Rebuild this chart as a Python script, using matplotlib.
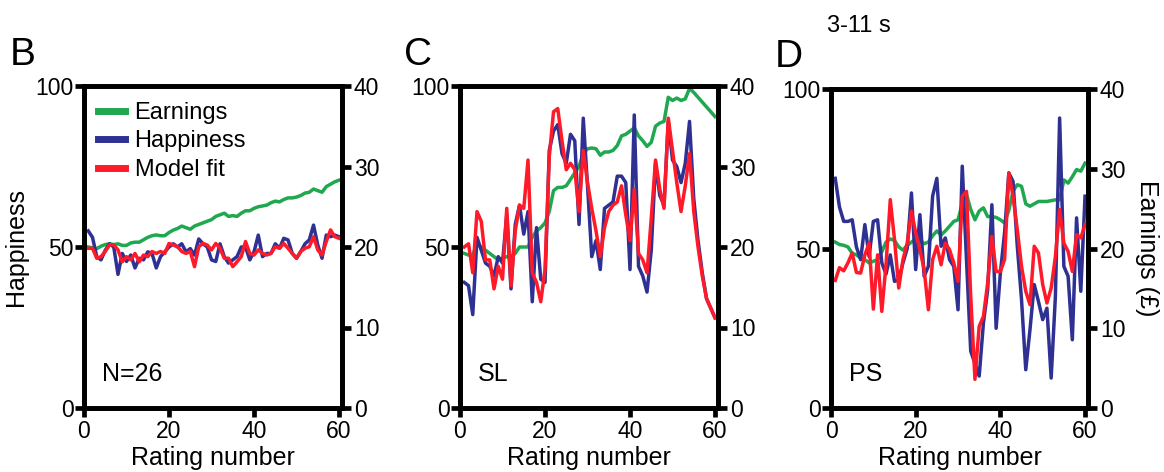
import numpy as np
import matplotlib
matplotlib.use("Agg")
import matplotlib.pyplot as plt
from matplotlib.lines import Line2D

plt.rcParams['font.family'] = ['Liberation Sans', 'DejaVu Sans']

rating = np.arange(1, 61)

# panel B (N=26 average)
earn_b = [20.0, 19.9, 19.8, 20.1, 20.3, 20.4, 20.3, 20.4, 20.2, 20.2,
          20.5, 20.6, 20.6, 20.9, 21.2, 21.4, 21.5, 21.4, 21.4, 21.8,
          22.1, 22.3, 22.6, 22.4, 22.2, 22.6, 22.8, 23.0, 23.2, 23.4,
          23.8, 24.0, 24.2, 23.8, 23.9, 23.8, 24.2, 24.5, 24.5, 24.8,
          25.0, 25.1, 25.2, 25.5, 25.7, 25.6, 25.9, 26.1, 26.1, 26.2,
          26.4, 26.7, 26.8, 27.2, 27.0, 26.8, 27.5, 27.8, 28.1, 28.3]
happy_b = [55, 53, 47, 46, 49, 51, 50, 41.5, 48, 45.5,
           47.5, 43.5, 46.5, 46, 48.5, 48, 43.5, 47, 48.5, 50,
           51, 50, 51, 48.5, 49.5, 47.5, 52.5, 51, 50, 46,
           45.5, 51, 47, 45, 46, 47, 50, 50, 46, 48.5,
           53.7, 47, 48, 48, 51, 49.6, 52.7, 52.2, 48, 46.5,
           48.6, 51, 52.2, 56.8, 50.6, 46.5, 53.7, 53.2, 53.7, 53.2]
model_b = [49.6, 49.6, 46.5, 47, 48.6, 50.7, 50.7, 49.1, 45.4, 47,
           46, 48, 45.4, 47.5, 47, 48.6, 48, 48.6, 48, 51.1,
           50.6, 50.1, 48.6, 48, 48.6, 43.9, 50.1, 51.1, 50.6, 49.1,
           51.1, 49.6, 46.5, 46.5, 43.9, 45.4, 47, 51.7, 48, 47.5,
           49.1, 48, 47.5, 48, 50.1, 49.6, 51.1, 49.6, 48, 46.5,
           48.6, 49.6, 50.1, 53.2, 49.1, 47.5, 51.7, 55.3, 53.2, 52.7]

# panel C (subject SL)
earn_c = [19.2, 19.0, 19.0, 20.4, 20.0, 19.6, 19.2, 18.8, 18.4, 18.6,
          18.8, 18.8, 19.2, 20.0, 20.0, 20.0, 21.2, 22.0, 22.4, 23.0,
          24.4, 27.0, 27.4, 27.4, 27.6, 28.4, 29.2, 30.0, 31.6, 32.2,
          32.3, 32.2, 31.4, 31.8, 31.8, 32.0, 32.6, 33.8, 34.0, 34.4,
          34.8, 33.8, 33.2, 32.5, 33.0, 35.0, 35.4, 35.6, 38.6, 38.2,
          38.5, 38.2, 38.4, 39.7, 39.2, 38.6, 38.0, 37.4, 36.8, 36.2]
happy_c = [39, 38, 29, 53, 49, 45, 44, 41, 47, 45,
           60, 37, 57, 63, 54, 61, 33, 56, 40, 39,
           80, 86, 88, 79, 76, 85, 83, 57, 90, 69,
           47, 52, 43, 62, 63, 64, 72, 72, 70, 43,
           91, 44, 41, 36, 49, 76, 66, 63, 89, 77,
           75, 70, 76, 89, 65, 52, 42, 34, 31, 28]
model_c = [50, 51, 42, 61, 58, 46, 46, 37, 44, 40,
           62, 38, 55, 63, 62, 77, 42, 39, 33, 43,
           78, 92, 93, 83, 74, 76, 74, 61, 80, 70,
           62, 55, 47, 56, 61, 63, 64, 69, 60, 52,
           68, 48, 46, 42, 59, 77, 68, 62, 90, 80,
           70, 61, 69, 79, 61, 50, 41, 34, 31, 28]

# panel D (subject PS)
earn_d = [20.8, 20.5, 20.4, 20.2, 19.4, 19.2, 18.8, 18.6, 18.2, 18.4,
          18.6, 19.6, 20.8, 21.2, 21.0, 20.2, 19.8, 20.4, 20.8, 21.2,
          21.0, 20.6, 20.8, 21.6, 22.2, 21.7, 22.2, 22.8, 23.4, 23.6,
          25.6, 26.8, 24.9, 23.6, 24.7, 25.1, 24.0, 24.0, 23.9, 23.6,
          23.2, 24.8, 27.2, 28.0, 27.8, 25.6, 25.3, 25.6, 25.9, 25.9,
          25.9, 26.0, 26.1, 26.1, 28.6, 28.2, 29.0, 29.9, 29.7, 30.7]
happy_d = [72, 63, 58.5, 58.5, 59, 50.5, 46.5, 57.5, 47.5, 58.5,
           59, 45.5, 42, 48, 39.7, 40.2, 45.5, 50, 67.4, 43.4,
           60.6, 41.3, 44.4, 66.4, 72, 50.7, 53.3, 46.5, 44.4, 30.8,
           75.8, 46.5, 17.8, 14, 10, 26.6, 37, 63.7, 25, 42.3,
           55, 73.7, 71, 50.7, 34, 12, 24.6, 38.7, 33.4, 27.7,
           31.3, 9.4, 35, 90.9, 44.4, 41.3, 21.4, 59.6, 36.6, 66.4]
model_d = [40, 44, 43, 45.5, 48.6, 42.5, 42.3, 48, 51.7, 31,
           48, 30.3, 45, 65.3, 52.8, 37.6, 46.5, 51.7, 61.7, 54.9,
           49.6, 43.4, 30.8, 46.5, 50.7, 44.9, 51.7, 49.6, 45.5, 39.7,
           66.4, 67.9, 35, 9, 25.6, 28.7, 39.2, 53.8, 42.8, 42.8,
           46.5, 73.7, 66.4, 55.9, 44.4, 36.6, 32.4, 50.7, 48.6, 38.7,
           32.9, 37.6, 47.5, 62.2, 51.7, 49.1, 42.8, 54.3, 53.3, 57.5]

panels = [
    ("B", earn_b, happy_b, model_b, "N=26"),
    ("C", earn_c, happy_c, model_c, "SL"),
    ("D", earn_d, happy_d, model_d, "PS"),
]

green = '#1fa84f'
blue = '#2e3192'
red = '#ff1a2a'

fig = plt.figure(figsize=(11.64, 4.72), dpi=100)

boxes = [
    [84 / 1164, 64 / 472, 258 / 1164, 322 / 472],
    [460 / 1164, 64 / 472, 258 / 1164, 322 / 472],
    [831 / 1164, 64 / 472, 257 / 1164, 319 / 472],
]
letter_pos = [(10, 65), (404, 65), (775, 67)]

for i, (letter, earn, happy, model, name) in enumerate(panels):
    ax = fig.add_axes(boxes[i])
    ax2 = ax.twinx()
    ax.set_zorder(ax2.get_zorder() + 1)
    ax.patch.set_visible(False)

    ax2.plot(rating, earn, color=green, lw=2.5)
    ax.plot(rating, happy, color=blue, lw=2.5)
    ax.plot(rating, model, color=red, lw=2.5)

    ax.set_xlim(0, 60.7)
    ax.set_ylim(0, 100)
    ax2.set_ylim(0, 40)
    ax.set_xticks([0, 20, 40, 60])
    ax.set_yticks([0, 50, 100])
    ax2.set_yticks([0, 10, 20, 30, 40])

    for a in (ax, ax2):
        for s in a.spines.values():
            s.set_linewidth(3.4)
        a.tick_params(width=3.4, length=6.5, labelsize=16.5, pad=2)
    ax.tick_params(axis='y', pad=1)

    ax.set_xlabel("Rating number", fontsize=18, labelpad=2.5)
    ax.text(0.07, 0.107, name, transform=ax.transAxes, fontsize=18,
            ha='left', va='center')

    fig.text(letter_pos[i][0] / 1164, 1 - letter_pos[i][1] / 472, letter,
             fontsize=28, va='baseline', ha='left')

    if i == 0:
        ax.set_ylabel("Happiness", fontsize=18, labelpad=5)
        handles = [Line2D([], [], color=green, lw=5),
                   Line2D([], [], color=blue, lw=5),
                   Line2D([], [], color=red, lw=5)]
        ax.legend(handles, ["Earnings", "Happiness", "Model fit"],
                  loc='upper left', bbox_to_anchor=(0.054, 0.95),
                  frameon=False, fontsize=17, handlelength=1.15,
                  handletextpad=0.4, labelspacing=0.27,
                  borderpad=0, borderaxespad=0)
    if i == 2:
        ax2.set_ylabel("Earnings (£)", fontsize=18, rotation=270,
                       labelpad=24)

fig.text(827 / 1164, 1 - 32 / 472, "3-11 s", fontsize=17, va='baseline')

fig.savefig("out.png", dpi=100)
